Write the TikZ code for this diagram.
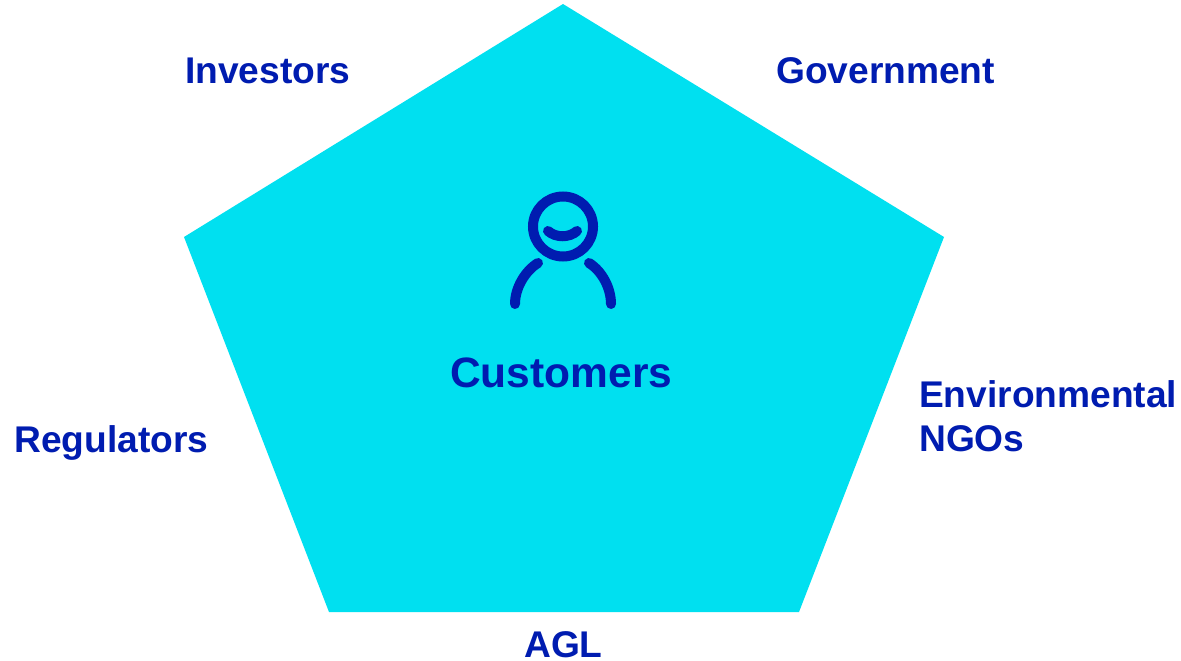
\documentclass[tikz,border=0pt]{standalone}
\usepackage{fontspec}
\setmainfont{Liberation Sans}
\definecolor{cyanfill}{HTML}{00E0F0}
\definecolor{navy}{HTML}{001CB0}
\tikzset{lab/.style={text=navy,font=\fontsize{37.15}{44}\selectfont\bfseries,inner sep=0pt,align=left},
biglab/.style={lab,font=\fontsize{42.5}{50}\selectfont\bfseries},
icon/.style={draw=navy,line width=10pt,line cap=round}}
\begin{document}
\begin{tikzpicture}[x=1pt,y=-1pt]
\useasboundingbox (0,0) rectangle (1181,661);
\fill[white] (0,0) rectangle (1181,661);
\fill[cyanfill] (563,4) -- (944,237) -- (799,612) -- (329,612) -- (184,237) -- cycle;
\node[lab,anchor=base west] (inv) at (185,83.5) {Investors};
\node[lab,anchor=base west] (gov) at (776,83.5) {Government};
\node[lab,anchor=base west] (env) at (919,407) {Environmental};
\node[lab,anchor=base west] (ngo) at (919,451) {NGOs};
\node[lab,anchor=base west] (reg) at (14,452) {Regulators};
\node[lab,anchor=base west] (agl) at (524,657) {AGL};
\node[biglab,anchor=base west] (cus) at (450,387) {Customers};
\draw[icon] (563,226.5) circle (30);
\draw[icon] (548,231) .. controls (556,238) and (569,238) .. (577,231);
\draw[icon] (515,304) .. controls (515,288) and (525,271) .. (538,263);
\draw[icon] (611,304) .. controls (611,288) and (602,271) .. (589,263);
\end{tikzpicture}
\end{document}
